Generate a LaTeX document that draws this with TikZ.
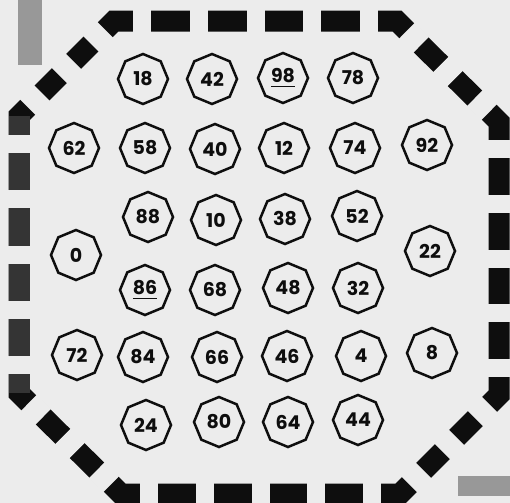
\documentclass[tikz,border=0pt]{standalone}
\usepackage{fontspec}
\setmainfont{Poppins}
\usetikzlibrary{shapes.geometric}
\definecolor{paper}{RGB}{236,236,236}
\definecolor{ink}{RGB}{14,14,14}
\definecolor{smudge}{RGB}{52,52,52}
\definecolor{screen}{RGB}{152,152,152}

\begin{document}
\begin{tikzpicture}[x=0.5pt, y=-0.5pt]
        \tikzset{hole/.style={regular polygon, regular polygon sides=8, shape border rotate=22.5, draw=ink, line width=1.25pt, minimum size=25pt, inner sep=0pt, text=ink, font=\fontsize{9.5}{11}\selectfont\bfseries}}
        \tikzset{rim/.style={draw=ink, line width=10.5pt, line join=miter}}
        \tikzset{gap/.style={draw=paper, line width=11.5pt}}
        \fill[paper] (0,0) rectangle (510,503);
        \useasboundingbox (0,0) rectangle (510,503);
        \fill[screen] (18,0) rectangle (42,65);
        \fill[screen] (458,476) rectangle (510,496);
        % corners of the frame
        \coordinate (a) at (19,116);
        \coordinate (b) at (114,21);
        \coordinate (c) at (397,21);
        \coordinate (d) at (499,122);
        \coordinate (e) at (499,395);
        \coordinate (f) at (400,494);
        \coordinate (g) at (121,494);
        \coordinate (h) at (19,393);
        \draw[rim] (a) -- (b) -- (c) -- (d) -- (e) -- (f) -- (g) -- (h) -- cycle;
        % cut the gaps, side by side
        \draw[gap, dash pattern=on 10pt off 12.39pt, dash phase=16.2pt] (a) -- (b);
        \draw[gap, dash pattern=on 9pt off 19.3pt, dash phase=18.65pt] (b) -- (c);
        \draw[gap, dash pattern=on 10pt off 13.92pt, dash phase=16.96pt] (c) -- (d);
        \draw[gap, dash pattern=on 9pt off 18.3pt, dash phase=18.15pt] (d) -- (e);
        \draw[gap, dash pattern=on 10pt off 13.33pt, dash phase=16.67pt] (e) -- (f);
        \draw[gap, dash pattern=on 9pt off 18.9pt, dash phase=18.45pt] (f) -- (g);
        \draw[gap, dash pattern=on 10pt off 13.92pt, dash phase=16.96pt] (g) -- (h);
        \draw[gap, dash pattern=on 9pt off 18.7pt, dash phase=18.35pt] (h) -- (a);
        \draw[draw=smudge, line width=10.5pt, dash pattern=on 18.7pt off 9pt, dash phase=9.35pt] (h) -- (a);
        % row 1
        \node[hole] (p18) at (143,79) {18};
        \node[hole] (p42) at (212,79) {42};
        \node[hole] (p98) at (283,78) {\underline{98}};
        \node[hole] (p78) at (353,78) {78};
        % row 2
        \node[hole] (p62) at (74,148) {62};
        \node[hole] (p58) at (145,148) {58};
        \node[hole] (p40) at (215,149) {40};
        \node[hole] (p12) at (284,148) {12};
        \node[hole] (p74) at (355,148) {74};
        \node[hole] (p92) at (427,145) {92};
        % row 3
        \node[hole] (p88) at (148,217) {88};
        \node[hole] (p10) at (216,220) {10};
        \node[hole] (p38) at (285,219) {38};
        \node[hole] (p52) at (357,216) {52};
        \node[hole] (p0) at (76,255) {0};
        \node[hole] (p22) at (430,251) {22};
        % row 4
        \node[hole] (p86) at (145,290) {\underline{86}};
        \node[hole] (p68) at (215,290) {68};
        \node[hole] (p48) at (288,288) {48};
        \node[hole] (p32) at (358,288) {32};
        % row 5
        \node[hole] (p72) at (77,355) {72};
        \node[hole] (p84) at (143,357) {84};
        \node[hole] (p66) at (217,357) {66};
        \node[hole] (p46) at (287,356) {46};
        \node[hole] (p4) at (361,356) {4};
        \node[hole] (p8) at (432,353) {8};
        % row 6
        \node[hole] (p24) at (146,425) {24};
        \node[hole] (p80) at (219,422) {80};
        \node[hole] (p64) at (288,422) {64};
        \node[hole] (p44) at (358,420) {44};
    \end{tikzpicture}
\end{document}
